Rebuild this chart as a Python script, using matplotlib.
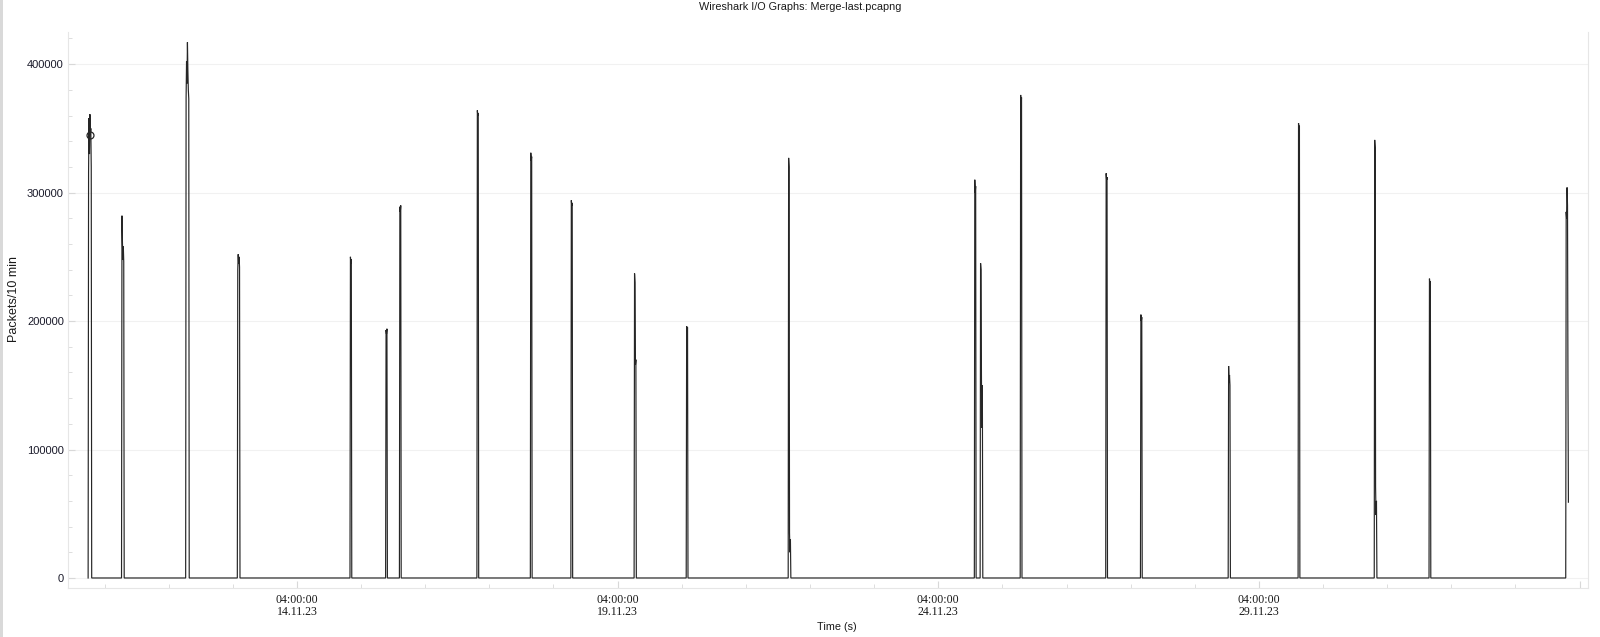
import pandas as pd
import numpy as np
import matplotlib.pyplot as plt
import matplotlib.dates as mdates
from matplotlib.ticker import MultipleLocator, FixedLocator
from matplotlib.patches import Rectangle

# capture window and burst data (packets per 10 min interval)
capture_start = '2023-11-10 21:50'
burst_starts = ['2023-11-10 22:00', '2023-11-11 10:30', '2023-11-12 10:30', '2023-11-13 05:50',
                '2023-11-15 00:00', '2023-11-15 13:20', '2023-11-15 18:30', '2023-11-16 23:30',
                '2023-11-17 19:30', '2023-11-18 10:40', '2023-11-19 10:20', '2023-11-20 05:50',
                '2023-11-21 20:00', '2023-11-24 17:40', '2023-11-24 19:50', '2023-11-25 10:50',
                '2023-11-26 18:50', '2023-11-27 07:50', '2023-11-28 16:40', '2023-11-29 18:50',
                '2023-11-30 23:20', '2023-12-01 19:50', '2023-12-03 23:00']
burst_values = [
    [316000, 358000, 330000, 361000, 345000, 350000, 320000],
    [282000, 262000, 248000, 258000, 246000],
    [374000, 402000, 385000, 417000, 395000, 380000, 373000],
    [240000, 252000, 245000, 250000, 242000],
    [250000, 245000, 248000],
    [193000, 190000, 194000],
    [289000, 285000, 290000],
    [364000, 360000, 362000],
    [331000, 325000, 328000],
    [294000, 290000, 292000],
    [237000, 230000, 166000, 170000],
    [196000, 192000, 195000],
    [327000, 320000, 35000, 20000, 30000],
    [310000, 300000, 305000],
    [245000, 240000, 155000, 117000, 150000],
    [376000, 370000, 374000],
    [315000, 310000, 312000],
    [205000, 200000, 203000],
    [165000, 152000, 158000, 150000],
    [354000, 350000, 352000],
    [341000, 335000, 71000, 49000, 60000],
    [233000, 228000, 231000],
    [285000, 280000, 304000, 290000, 150000, 59000],
]
marker_time = '2023-11-10 22:40'  # clicked point on first burst
marker_value = 345000
major_ticks = ['2023-11-14 04:00', '2023-11-19 04:00', '2023-11-24 04:00', '2023-11-29 04:00', '2023-12-04 04:00']
x_range = ['2023-11-10 14:18', '2023-12-04 07:10']

# build the 10 min series, zero between bursts
step = pd.Timedelta(minutes=10)
times = [pd.Timestamp(capture_start)]
values = [0]
for i, (start, vals) in enumerate(zip(burst_starts, burst_values)):
    t0 = pd.Timestamp(start)
    if t0 - step > times[-1]:
        times.append(t0 - step)
        values.append(0)
    for k, v in enumerate(vals):
        times.append(t0 + k * step)
        values.append(v)
    if i < len(burst_starts) - 1:  # last burst is cut off at capture end
        times.append(t0 + len(vals) * step)
        values.append(0)

fig = plt.figure(figsize=(16, 6.37), dpi=100)
fig.add_artist(Rectangle((0, 0), 3 / 1600, 1, transform=fig.transFigure, color='#d9d9d9', lw=0))
ax = fig.add_axes([68 / 1600, 1 - 588 / 637, (1588 - 68) / 1600, (588 - 32) / 637])

ax.plot(times, values, color='#262626', lw=0.85, solid_joinstyle='miter')
ax.plot([pd.Timestamp(marker_time)], [marker_value], 'o', mfc='none', mec='#262626', ms=5, mew=0.9)

ax.set_ylim(-7800, 425000)
ax.set_xlim(pd.Timestamp(x_range[0]), pd.Timestamp(x_range[1]))

ax.yaxis.set_major_locator(MultipleLocator(100000))
ax.yaxis.set_minor_locator(MultipleLocator(20000))
ax.xaxis.set_major_locator(FixedLocator(mdates.date2num(pd.to_datetime(major_ticks))))
ax.xaxis.set_minor_locator(mdates.HourLocator(byhour=4))
ax.xaxis.set_major_formatter(mdates.DateFormatter('%H:%M:%S\n%d.%m.%y'))

ax.grid(axis='y', which='major', color='#f1f1f1', lw=0.8)
ax.tick_params(axis='both', which='both', direction='in', color='#d8d8d8')
ax.tick_params(axis='both', which='major', length=5)
ax.tick_params(axis='both', which='minor', length=3)
ax.tick_params(axis='y', labelsize=8, labelcolor='#1a1a2a', pad=3)
ax.tick_params(axis='x', labelsize=8.6, labelcolor='#1a1a1a', pad=4)
for lab in ax.get_yticklabels():
    lab.set_family('Liberation Sans')
for lab in ax.get_xticklabels():
    lab.set_family('Liberation Serif')
    lab.set_linespacing(1.1)
ax.get_xticklabels()[-1].set_visible(False)

for side in ['left', 'bottom', 'right']:
    ax.spines[side].set_color('#e6e6e6')
    ax.spines[side].set_linewidth(0.8)
ax.spines['top'].set_visible(False)

fig.text(0.5, 1 - 7 / 637, 'Wireshark I/O Graphs: Merge-last.pcapng', ha='center', va='center',
         fontsize=7.8, family='Liberation Sans', color='#1a1a1a')
fig.text(14 / 1600, 1 - 299 / 637, 'Packets/10 min', rotation=90, ha='center', va='center',
         fontsize=9, family='Liberation Sans', color='#1a1a1a')
fig.text(837 / 1600, 1 - 627 / 637, 'Time (s)', ha='center', va='center',
         fontsize=7.8, family='Liberation Sans', color='#1a1a1a')

fig.savefig('out.png', dpi=100)
